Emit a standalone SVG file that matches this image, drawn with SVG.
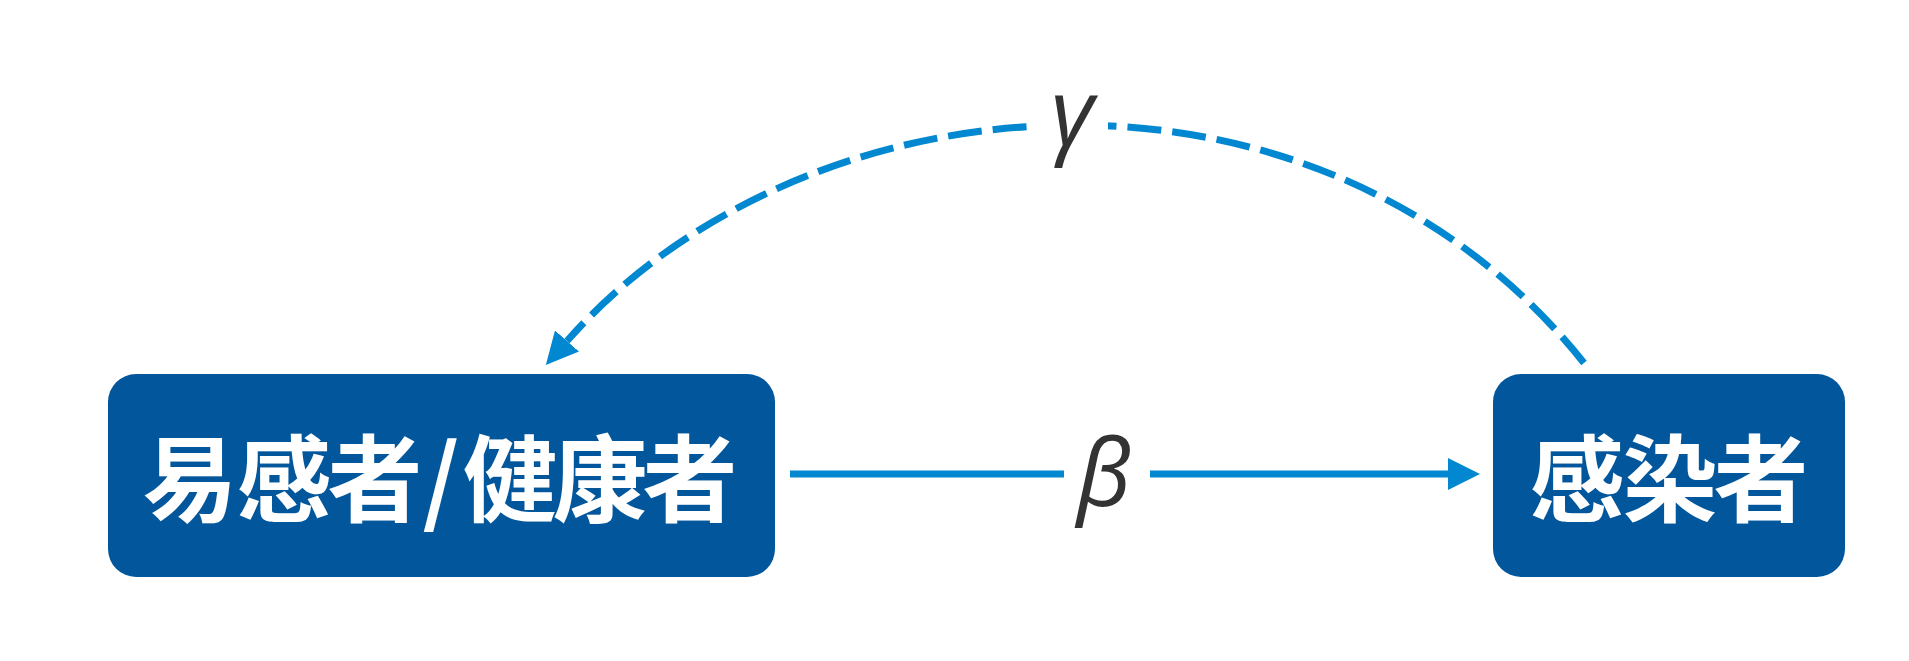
<svg xmlns="http://www.w3.org/2000/svg" width="1909" height="661" viewBox="0 0 1909 661">
<style>
.box{fill:#02579C}
.lbl{font-family:"Noto Sans CJK SC","Noto Sans",sans-serif;font-weight:700;font-size:95px;fill:#fff;text-anchor:middle;dominant-baseline:central}
.conn{fill:none;stroke:#0288D1;stroke-width:7}
.dash{stroke-dasharray:34 11}
.greek{font-family:"Open Sans","DejaVu Sans",sans-serif;font-style:italic;font-size:94px;fill:#333;text-anchor:middle}
</style>
<defs>
<marker id="arr" markerUnits="userSpaceOnUse" markerWidth="32" markerHeight="32" refX="0" refY="15" orient="auto" viewBox="0 0 30 30">
<path d="M0,0 L30,15 L0,30 Z" fill="#0288D1"/>
</marker>
</defs>
<rect width="1909" height="661" fill="#fff"/>
<g id="connectors">
<path id="beta-edge" class="conn" d="M790,474 L1448,474" marker-end="url(#arr)"/>
<rect x="1064" y="455" width="86" height="40" fill="#fff"/>
<text class="greek" x="1104" y="506">β</text>
<path id="gamma-edge" class="conn dash" d="M1584,363 C1317,28 805,71 567,341" marker-end="url(#arr)"/>
<rect x="1030" y="95" width="78" height="70" fill="#fff"/>
<text class="greek" x="1072" y="146">γ</text>
</g>
<g id="node-susceptible">
<rect class="box" x="108" y="374" width="667" height="203" rx="28"/>
<text class="lbl" x="190 284 375 441 510 600 690" y="473">易感者/健康者</text>
</g>
<g id="node-infected">
<rect class="box" x="1493" y="374" width="352" height="203" rx="28"/>
<text class="lbl" x="1577 1670 1761" y="473">感染者</text>
</g>
</svg>
